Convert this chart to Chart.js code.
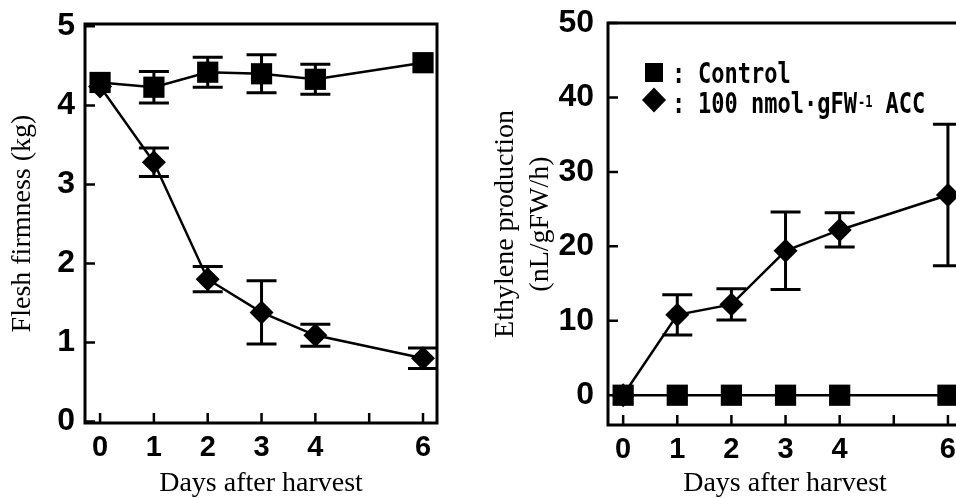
<!DOCTYPE html>
<html>
<head>
<meta charset="utf-8">
<script src="https://cdn.jsdelivr.net/npm/chart.js@4.4.0/dist/chart.umd.min.js"></script>
<style>
  html, body { margin: 0; padding: 0; background: #fff; overflow: hidden; width: 956px; height: 498px; }
  #esq { position: absolute; left: 0; top: 0; width: 478px; height: 498px; }
  #dir { position: absolute; left: 478px; top: 0; width: 520px; height: 498px; }
</style>
</head>
<body>
<div id="esq"><canvas id="firmeza"></canvas></div>
<div id="dir"><canvas id="etileno"></canvas></div>
<script>
// dados
const dias = [0, 1, 2, 3, 4, 6];
const diasTicks = [0, 1, 2, 3, 4, 5, 6];

const firmezaControl = [4.29, 4.23, 4.42, 4.4, 4.33, 4.54];
const firmezaControlErr = [0, 0.2, 0.19, 0.24, 0.19, 0];
const firmezaACC = [4.24, 3.28, 1.8, 1.38, 1.09, 0.8];
const firmezaACCErr = [0, 0.18, 0.16, 0.4, 0.14, 0.13];
const firmezaTicks = [0, 1, 2, 3, 4, 5];

const etilenoControl = [0, 0, 0, 0, 0, 0];
const etilenoACC = [0, 10.8, 12.2, 19.4, 22.2, 26.9];
const etilenoACCErr = [0, 2.7, 2.1, 5.2, 2.3, 9.5];
const etilenoTicks = [0, 10, 20, 30, 40, 50];

const nomeControl = "Control";
const nomeACC = "100 nmol\u00b7gFW";

const fonteY = { family: "'Liberation Sans', Arial, sans-serif", size: 32, weight: "bold" };
const fonteX = { family: "'Liberation Sans', Arial, sans-serif", size: 29, weight: "bold" };
const fonteSerif = { family: "'Liberation Serif', 'DejaVu Serif', serif", size: 28 };

function pontos(ys) {
  return dias.map((d, i) => ({ x: d, y: ys[i] }));
}

// moldura e ticks para dentro
const molduraPlugin = {
  id: "moldura",
  afterDraw(chart) {
    const { ctx, chartArea: a, scales } = chart;
    ctx.save();
    ctx.strokeStyle = "#000";
    ctx.lineWidth = 3;
    ctx.strokeRect(a.left, a.top, a.right - a.left, a.bottom - a.top);
    ctx.lineWidth = 2.5;
    ctx.beginPath();
    scales.x.ticks.forEach((t) => {
      const px = scales.x.getPixelForValue(t.value);
      ctx.moveTo(px, a.bottom);
      ctx.lineTo(px, a.bottom - 10);
    });
    scales.y.ticks.forEach((t) => {
      const py = scales.y.getPixelForValue(t.value);
      ctx.moveTo(a.left, py);
      ctx.lineTo(a.left + 10, py);
    });
    ctx.stroke();
    ctx.restore();
  },
};

// barras de erro
const barrasErroPlugin = {
  id: "barrasErro",
  beforeDatasetsDraw(chart) {
    const { ctx, scales: { x, y } } = chart;
    ctx.save();
    ctx.strokeStyle = "#000";
    ctx.lineWidth = 3;
    chart.data.datasets.forEach((ds) => {
      if (!ds.erros) return;
      ds.data.forEach((p, i) => {
        const e = ds.erros[i];
        if (!e) return;
        const px = x.getPixelForValue(p.x);
        const yTop = y.getPixelForValue(p.y + e);
        const yBot = y.getPixelForValue(p.y - e);
        ctx.beginPath();
        ctx.moveTo(px, yTop); ctx.lineTo(px, yBot);
        ctx.moveTo(px - 15, yTop); ctx.lineTo(px + 15, yTop);
        ctx.moveTo(px - 15, yBot); ctx.lineTo(px + 15, yBot);
        ctx.stroke();
      });
    });
    ctx.restore();
  },
};

// legenda dentro do gráfico da direita
const legendaPlugin = {
  id: "legenda",
  afterDraw(chart) {
    const { ctx, chartArea: a } = chart;
    const mx = a.left + 46;
    const tx = a.left + 90;
    const texto = (s, x, y, size) => {
      ctx.save();
      ctx.font = "bold " + size + "px 'DejaVu Sans Mono', monospace";
      ctx.translate(x, y);
      ctx.scale(1, 1.3);
      ctx.fillText(s, 0, 0);
      ctx.restore();
      ctx.font = "bold " + size + "px 'DejaVu Sans Mono', monospace";
      return ctx.measureText(s).width;
    };
    ctx.save();
    ctx.fillStyle = "#000";
    ctx.textBaseline = "alphabetic";
    // quadrado
    ctx.fillRect(mx - 9, a.top + 40, 18, 19);
    // losango
    const dy = a.top + 77;
    ctx.beginPath();
    ctx.moveTo(mx - 12, dy);
    ctx.lineTo(mx, dy - 12.5);
    ctx.lineTo(mx + 12, dy);
    ctx.lineTo(mx, dy + 12.5);
    ctx.closePath();
    ctx.fill();
    texto(":", a.left + 64, a.top + 60, 22);
    texto(":", a.left + 64, a.top + 90, 22);
    texto(chart.data.datasets[0].label, tx, a.top + 60, 22);
    const w = texto(nomeACC, tx, a.top + 90, 22);
    const w2 = texto("-1", tx + w + 1, a.top + 84, 12);
    texto("ACC", tx + w + w2 + 14, a.top + 90, 22);
    ctx.restore();
  },
};

function criarGrafico(id, cfg) {
  return new Chart(document.getElementById(id), {
    type: "line",
    data: {
      datasets: [
        {
          label: nomeControl,
          data: pontos(cfg.control),
          erros: cfg.controlErr,
          borderColor: "#000",
          borderWidth: 2.5,
          pointStyle: "rect",
          pointRadius: 15,
          pointHoverRadius: 15,
          pointBackgroundColor: "#000",
          pointBorderWidth: 0,
          tension: 0,
        },
        {
          label: nomeACC,
          data: pontos(cfg.acc),
          erros: cfg.accErr,
          borderColor: "#000",
          borderWidth: 2.5,
          pointStyle: "rectRot",
          pointRadius: 12,
          pointHoverRadius: 12,
          pointBackgroundColor: "#000",
          pointBorderWidth: 0,
          tension: 0,
        },
      ],
    },
    options: {
      responsive: true,
      maintainAspectRatio: false,
      animation: false,
      layout: { padding: { left: 0, top: cfg.top, right: cfg.right, bottom: 0 } },
      plugins: { legend: { display: false }, tooltip: { enabled: false } },
      scales: {
        x: {
          type: "linear",
          min: -0.28,
          max: 6.26,
          afterBuildTicks: (s) => { s.ticks = diasTicks.map((v) => ({ value: v })); },
          afterFit: (s) => {
            s.height = cfg.xAltura;
            s.paddingLeft = 0;
            s.paddingRight = 0;
          },
          ticks: {
            font: fonteX, color: "#000", padding: 8, maxRotation: 0, autoSkip: false,
            callback: (v) => (v === 5 ? "" : v),
          },
          grid: { display: false, drawTicks: false },
          border: { display: false },
          title: {
            display: true, text: "Days after harvest", font: { ...fonteSerif, lineHeight: 1.0 },
            color: "#000", padding: { top: 0, bottom: 0 },
          },
        },
        y: {
          type: "linear",
          min: cfg.yMin,
          max: cfg.yMax,
          afterBuildTicks: (s) => { s.ticks = cfg.yTicks.map((v) => ({ value: v })); },
          afterFit: (s) => {
            s.width = cfg.yLargura;
            s.paddingTop = 0;
            s.paddingBottom = 0;
          },
          ticks: { font: fonteY, color: "#000", padding: cfg.yPad },
          grid: { display: false, drawTicks: false },
          border: { display: false },
          title: {
            display: true, text: cfg.yTitulo, font: { ...fonteSerif, lineHeight: cfg.yLinha },
            color: "#000", padding: { top: cfg.yTituloPad, bottom: 0 },
          },
        },
      },
    },
    plugins: cfg.plugins,
  });
}

criarGrafico("firmeza", {
  control: firmezaControl, controlErr: firmezaControlErr,
  acc: firmezaACC, accErr: firmezaACCErr,
  yMin: -0.02, yMax: 5.03, yTicks: firmezaTicks,
  top: 24, right: 41, xAltura: 75, yLargura: 85, yPad: 10,
  yTitulo: "Flesh firmness (kg)", yLinha: 1.2, yTituloPad: 6,
  plugins: [barrasErroPlugin, molduraPlugin],
});

criarGrafico("etileno", {
  control: etilenoControl, controlErr: null,
  acc: etilenoACC, accErr: etilenoACCErr,
  yMin: -4, yMax: 50, yTicks: etilenoTicks,
  top: 23, right: 36, xAltura: 73, yLargura: 130, yPad: 14,
  yTitulo: ["Ethylene production", "(nL/gFW/h)"], yLinha: 1.25, yTituloPad: 10.5,
  plugins: [barrasErroPlugin, molduraPlugin, legendaPlugin],
});
</script>
</body>
</html>
